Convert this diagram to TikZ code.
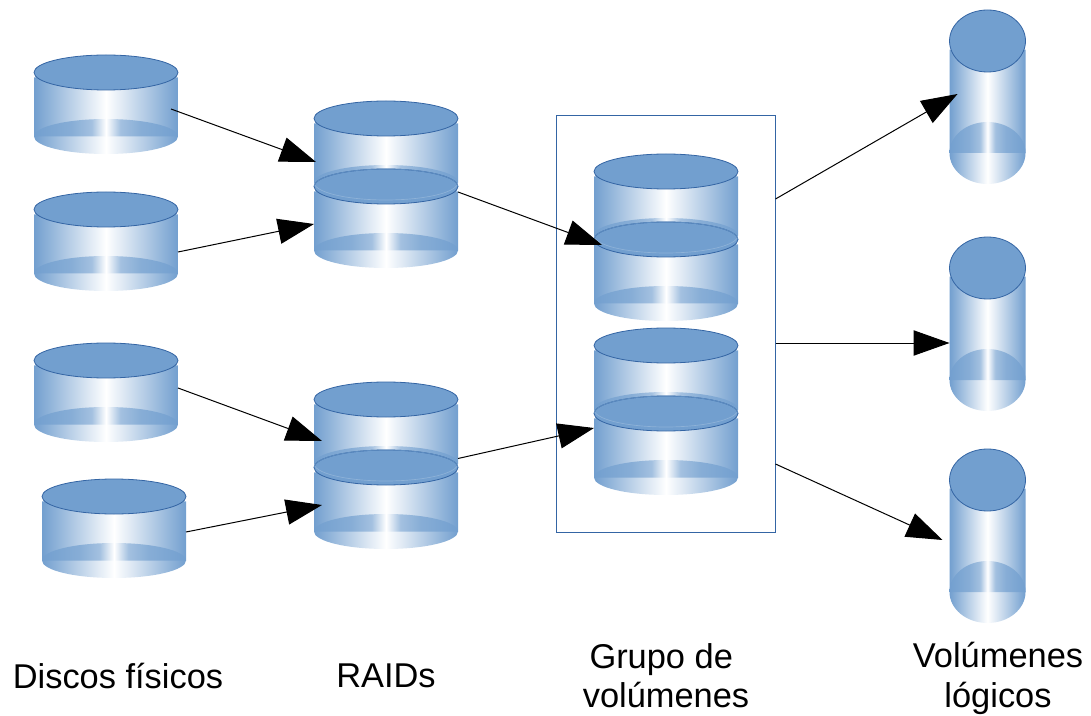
\documentclass[tikz,border=0pt]{standalone}
\usepackage{fontspec}
\setmainfont{Liberation Sans}
\usetikzlibrary{arrows.meta}
\definecolor{azul}{HTML}{729FCF}
\definecolor{borde}{HTML}{3465A4}
\pgfdeclarehorizontalshading{cuerpo}{100bp}{color(0bp)=(azul); color(25bp)=(azul); color(50bp)=(white); color(75bp)=(azul); color(100bp)=(azul)}
\pgfdeclarehorizontalshading{fondo}{100bp}{color(0bp)=(azul); color(25bp)=(azul); color(38bp)=(azul!85!white); color(45bp)=(azul!65!white); color(50bp)=(white); color(55bp)=(azul!65!white); color(62bp)=(azul!85!white); color(75bp)=(azul); color(100bp)=(azul)}
\tikzstyle{caja} = [draw=none, inner sep=0pt, outer sep=0pt]
\tikzstyle{tapa} = [fill=azul, draw=borde, line width=0.6pt]
\tikzstyle{grupo} = [draw=borde, line width=0.75pt, inner sep=0pt, outer sep=0pt]
\tikzstyle{flecha} = [draw, line width=0.75pt, -{Triangle[length=27pt,width=19pt]}]
\tikzstyle{rotulo} = [align=center, inner sep=0pt, font=\fontsize{25.8}{29.5}\selectfont]
% name, centre x, top y, half width, half height of the lid, total height
\newcommand{\disco}[6]{
	\pgfmathsetmacro{\izq}{#2-#4}
	\pgfmathsetmacro{\der}{#2+#4}
	\pgfmathsetmacro{\arriba}{#3+1.28*#5}
	\pgfmathsetmacro{\linea}{#3+#6-#5}
	\pgfmathsetmacro{\medio}{#3+#6/2}
	\pgfmathsetmacro{\tapay}{#3+#5}
	\pgfmathsetlengthmacro{\ancho}{2*#4*0.75pt}
	\pgfmathsetlengthmacro{\alto}{#6*0.75pt}
	\pgfmathsetlengthmacro{\radx}{#4*0.75pt}
	\pgfmathsetlengthmacro{\rady}{#5*0.75pt}
	\node [caja,minimum width=\ancho,minimum height=\alto] (#1) at (#2,\medio) {};
	\shade [shading=cuerpo] (\izq,\arriba) -- (\der,\arriba) -- (\der,\linea)
		arc [start angle=0,end angle=-180,x radius=\radx,y radius=\rady] -- cycle;
	\shade [shading=fondo] (\izq,\linea)
		arc [start angle=180,end angle=0,x radius=\radx,y radius=\rady] -- cycle;
	\path [tapa] (#2,\tapay) ellipse [x radius=\radx,y radius=\rady];
}
% where a disc sits on another: centre x, top y of the lower disc
\newcommand{\junta}[2]{
	\pgfmathsetmacro{\tapay}{#2+17.5}
	\pgfmathsetmacro{\lobuy}{#2+13.5}
	\draw [azul!70!borde,line width=0.6pt] (#1-72,\tapay)
		arc [start angle=180,end angle=0,x radius=54pt,y radius=13.125pt];
	\draw [azul!80!white,line width=0.5pt] ([shift={(-170:54pt and 13.125pt)}]#1,\lobuy)
		arc [start angle=-170,end angle=-10,x radius=54pt,y radius=13.125pt];
}

\begin{document}
\begin{tikzpicture}[x=0.75pt,y=-0.75pt]
	\useasboundingbox (0,0) rectangle (1091,716);

	% the box goes under the stacks
	\node [grupo,minimum width=164.25pt,minimum height=312pt] (vg) at (666,324) {};

	% discos fisicos
	\disco{d1}{106}{55}{72}{17.5}{99}
	\disco{d2}{106}{192}{72}{17.5}{99}
	\disco{d3}{106}{343}{72}{17.5}{99}
	\disco{d4}{114}{479}{72}{17.5}{99}

	% raids
	\disco{r1a}{386}{101}{72}{17.5}{99}
	\disco{r1b}{386}{169}{72}{17.5}{99}
	\junta{386}{169}
	\disco{r2a}{386}{382}{72}{17.5}{99}
	\disco{r2b}{386}{450}{72}{17.5}{99}
	\junta{386}{450}

	% grupo de volumenes
	\disco{g1a}{666}{154}{72}{17.5}{99}
	\disco{g1b}{666}{222}{72}{17.5}{99}
	\junta{666}{222}
	\disco{g2a}{666}{328}{72}{17.5}{99}
	\disco{g2b}{666}{396}{72}{17.5}{99}
	\junta{666}{396}

	% volumenes logicos
	\disco{v1}{987.5}{10}{38}{31}{174}
	\disco{v2}{987.5}{237}{38}{31}{174}
	\disco{v3}{987.5}{449}{38}{31}{174}

	% draw the arrows
	\draw [flecha] ([shift={(-7,4.5)}]d1.east) -- ([shift={(2,11.5)}]r1a.west);
	\draw [flecha] ([shift={(0,10.5)}]d2.east) -- ([shift={(0,5.5)}]r1b.west);
	\draw [flecha] ([shift={(0,-4.5)}]d3.east) -- ([shift={(8,9.5)}]r2a.west);
	\draw [flecha] ([shift={(0,3.5)}]d4.east) -- ([shift={(8,5.5)}]r2b.west);
	\draw [flecha] ([shift={(0,-26.5)}]r1b.east) -- ([shift={(8,-26.5)}]g1b.west);
	\draw [flecha] ([shift={(0,-41)}]r2b.east) -- ([shift={(0,-17.5)}]g2b.west);
	\draw [flecha] ([shift={(0,-125)}]vg.east) -- ([shift={(8,-3)}]v1.west);
	\draw [flecha] ([shift={(0,19)}]vg.east) -- ([shift={(0,19)}]v2.west);
	\draw [flecha] ([shift={(0,140)}]vg.east) -- ([shift={(-7,4)}]v3.west);

	% labels
	\node [rotulo] (lbl1) at (118,676) {Discos físicos};
	\node [rotulo] (lbl2) at (386,676) {RAIDs};
	\node [rotulo] (lbl3) at (666,676) {Grupo de~\mbox{}\\volúmenes};
	\node [rotulo] (lbl4) at (998,678.5) {Volúmenes\\lógicos};
\end{tikzpicture}
\end{document}
